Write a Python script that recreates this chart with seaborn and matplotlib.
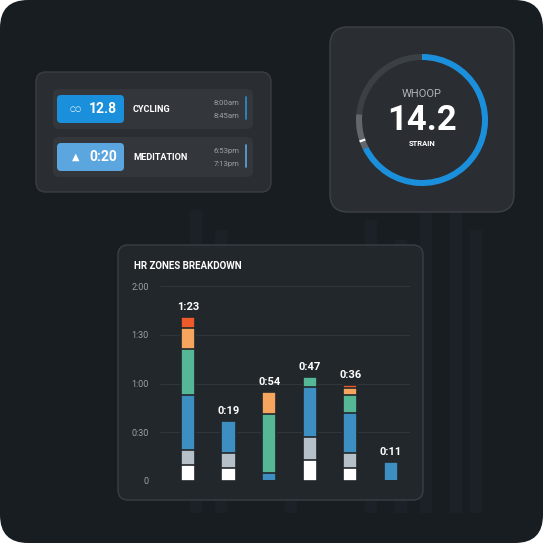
import numpy as np
import pandas as pd
import seaborn as sns
import matplotlib.pyplot as plt
from matplotlib.patches import FancyBboxPatch, Wedge

# Data: HR zone minutes per workout, bottom-up
labels = ['1:23', '0:19', '0:54', '0:47', '0:36', '0:11']
zone_white = [10, 8, 0, 13, 8, 0]
zone_gray = [9, 9, 0, 14, 9, 0]
zone_blue = [34, 20, 5, 31, 25, 12]
zone_green = [28, 0, 36, 6, 11, 0]
zone_orange = [13, 0, 14, 0, 4, 0]
zone_red = [7, 0, 0, 0, 2, 0]
y_ticks = [0, 30, 60, 90, 120]
y_tick_labels = ['0', '0:30', '1:00', '1:30', '2:00']
strain = 14.2
strain_max = 21

zones = [zone_white, zone_gray, zone_blue, zone_green, zone_orange, zone_red]
zone_colors = ['#ffffff', '#b6c0c9', '#3d8fc1', '#55b796', '#f5a55e', '#ee5a2a']

sns.set_theme(style='dark')
plt.rcParams['font.family'] = ['Roboto', 'DejaVu Sans']

fig = plt.figure(figsize=(5.43, 5.43), dpi=100, facecolor='white')
bg = fig.add_axes([0, 0, 1, 1])
bg.set_xlim(0, 543)
bg.set_ylim(543, 0)
bg.axis('off')


def card(x, y, w, h, fc, ec, r=10, lw=1):
    bg.add_patch(FancyBboxPatch((x + r, y + r), w - 2 * r, h - 2 * r,
                                boxstyle=f'round,pad={r}', fc=fc, ec=ec, lw=lw))


card(0, 0, 543, 543, '#181d22', 'none', r=28)
# faint background bars
for bx, bh in zip([190, 215, 285, 365, 395, 420, 450, 470],
                  [210, 230, 250, 220, 240, 200, 190, 230]):
    bg.add_patch(plt.Rectangle((bx, bh), 12, 543 - bh - 30, fc='#1b2127', ec='none'))

# left activity card
card(36, 72, 235, 120, '#2a2e33', '#3a3f45', r=10)
card(53, 89, 200, 40, '#33373c', 'none', r=6)
card(53, 137, 200, 40, '#33373c', 'none', r=6)
card(57, 95, 67, 28, '#1a8fdb', 'none', r=4)
card(57, 143, 67, 28, '#5ba6df', 'none', r=4)
bg.text(103, 109, '12.8', color='white', fontsize=10, fontweight='bold', ha='center', va='center')
bg.text(103, 157, '0:20', color='white', fontsize=10, fontweight='bold', ha='center', va='center')
bg.text(76, 110, '\u25cb\u25cb', color='white', fontsize=5, ha='center', va='center')
bg.text(76, 157, '\u25b2', color='white', fontsize=7, ha='center', va='center')
bg.text(133, 109, 'CYCLING', color='white', fontsize=6.6, fontweight='bold', va='center')
bg.text(133, 157, 'MEDITATION', color='white', fontsize=6.6, fontweight='bold', va='center')
for yy, t in zip([103, 116, 151, 164], ['8:00am', '8:45am', '6:53pm', '7:13pm']):
    bg.text(240, yy, t, color='#9aa0a6', fontsize=5.6, ha='right', va='center')
bg.plot([246, 246], [97, 119], color='#2a8fd6', lw=1.2)
bg.plot([246, 246], [145, 167], color='#5ba6df', lw=1.2)

# strain card (bg y axis is inverted, so wedge angles run clockwise)
card(330, 27, 184, 185, '#2a2e33', '#3d4248', r=18)
cx, cy, ro = 422, 120, 66
end_ang = -90 + strain / strain_max * 360
bg.add_patch(Wedge((cx, cy), ro, 0, 360, width=6, fc='#3b4045', ec='none'))
bg.add_patch(Wedge((cx, cy), ro, end_ang, 185, width=6, fc='#62676c', ec='none'))
bg.add_patch(Wedge((cx, cy), ro, -90, end_ang, width=6, fc='#1a8fdb', ec='none'))
bg.add_patch(Wedge((cx, cy), ro, 160, 162, width=6, fc='white', ec='none'))
bg.text(cx, 94, 'WHOOP', color='#b0b4b8', fontsize=8, ha='center', va='center')
bg.text(cx, 120, f'{strain}', color='white', fontsize=25, fontweight='bold', ha='center', va='center')
bg.text(cx, 144, 'STRAIN', color='white', fontsize=5.5, fontweight='bold', ha='center', va='center')

# HR zones card
card(118, 245, 305, 255, '#22272c', '#3a3f45', r=10)
bg.text(134, 266, 'HR ZONES BREAKDOWN', color='white', fontsize=7, fontweight='bold', va='center')

ax = fig.add_axes([160 / 543, 62 / 543, 250 / 543, 195 / 543])
ax.set_facecolor('none')
df = pd.DataFrame({'x': np.arange(len(labels))})
cum = np.cumsum(np.array(zones), axis=0)
for i in range(len(zones) - 1, -1, -1):
    df['v'] = cum[i]
    sns.barplot(data=df, x='x', y='v', color=zone_colors[i], width=0.35,
                saturation=1, ax=ax, edgecolor='#22272c', linewidth=1.2)
for p in ax.patches:
    p.set_zorder(2)
totals = cum[-1]
for i, (t, lab) in enumerate(zip(totals, labels)):
    ax.text(i, t + 3, lab, color='white', fontsize=8, fontweight='bold', ha='center', va='bottom')
ax.set_xlim(-0.69, 5.47)
ax.set_ylim(0, 120)
ax.set_yticks(y_ticks)
ax.set_yticklabels(y_tick_labels, color='#9aa0a6', fontsize=6.5)
ax.tick_params(axis='y', pad=8, length=0)
ax.set_xticks([])
ax.set_xlabel('')
ax.set_ylabel('')
ax.grid(axis='y', color='#30363c', lw=0.8)
ax.set_axisbelow(True)
for s in ax.spines.values():
    s.set_visible(False)

fig.savefig('out.png', dpi=100, facecolor='white')
